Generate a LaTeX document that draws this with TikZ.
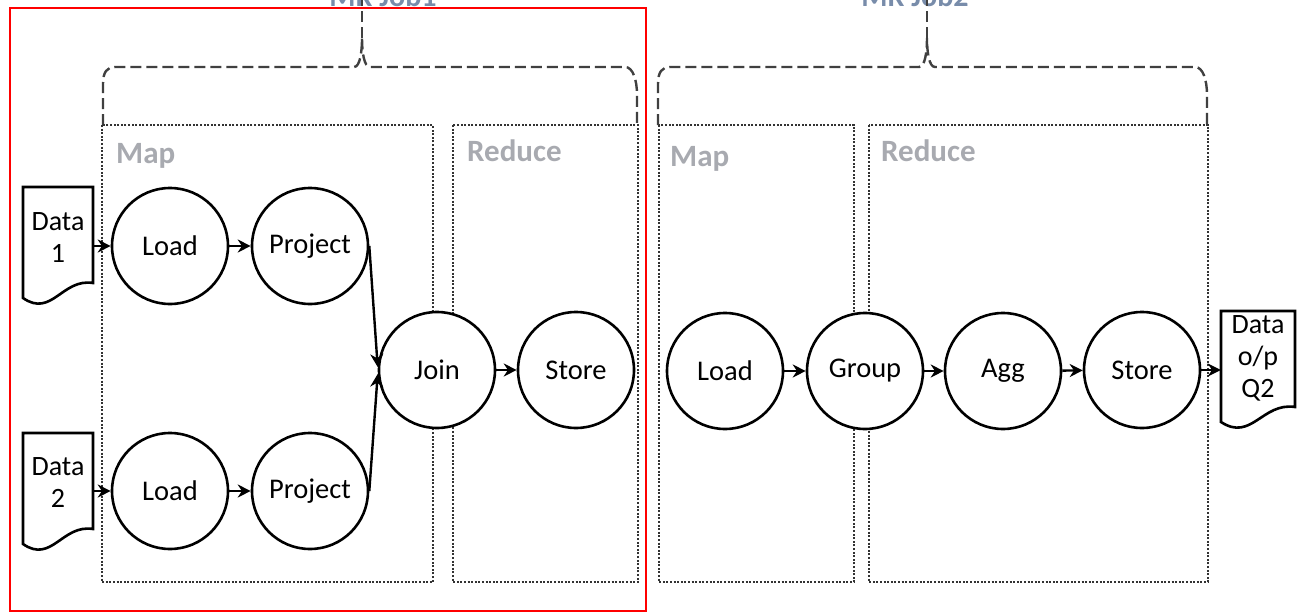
\documentclass[tikz,border=0pt]{standalone}
\usepackage{fontspec}
\setmainfont{Carlito}
\usetikzlibrary{arrows.meta}
\definecolor{labgray}{RGB}{168,170,176}
\definecolor{jobblue}{RGB}{120,140,170}
\tikzset{
  circ/.style={circle, draw, line width=2.6pt, fill=white, minimum size=116pt, inner sep=0pt, font=\fontsize{28.5}{32}\selectfont},
  arr/.style={line width=2.4pt, -{Stealth[length=13pt,width=13pt]}},
  docline/.style={line width=2.6pt, fill=white},
  doctext/.style={align=center, font=\fontsize{28}{32}\selectfont, inner sep=0pt},
  phase/.style={draw=black!80, line width=2pt, dash pattern=on 2pt off 1.6pt},
  phaselabel/.style={font=\bfseries\fontsize{31}{34}\selectfont, text=labgray, anchor=base west, inner sep=0pt},
  bracepath/.style={line width=2.4pt, dash pattern=on 11pt off 5pt, draw=black!75},
  joblabel/.style={font=\bfseries\fontsize{30}{32}\selectfont, text=jobblue, anchor=base, inner sep=0pt}
}
\newcommand{\DocOutline}[3]{%
  \draw[docline] (#1,#2) -- ++(#3,0) -- ++(0,96)
    .. controls +({-0.44*#3},-5) and +({0.41*#3},20) .. ++({-#3},15) -- cycle;}
\newcommand{\JobBrace}[3]{% left, tip, right
  \draw[bracepath] (#1,125) -- (#1,84) .. controls (#1,72) and ({#1+4},67) .. ({#1+12},67)
    -- ({#2-8},67) .. controls ({#2-2},67) and (#2,52) .. (#2,38)
    .. controls (#2,52) and ({#2+2},67) .. ({#2+8},67)
    -- ({#3-12},67) .. controls ({#3-4},67) and (#3,80) .. (#3,95) -- (#3,125);
  \draw[bracepath] (#2,38) -- (#2,0);}
\begin{document}
\begin{tikzpicture}[x=1pt,y=-1pt]
\useasboundingbox (0,0) rectangle (1307,613);
% job labels (cut off at the top, as in the source)
\node[joblabel] (mr1) at (383,6) {MR Job1};
\node[joblabel] (mr2) at (915,6) {MR Job2};
% braces
\JobBrace{103}{362}{637}
\JobBrace{658}{927}{1207}
% phase boxes
\draw[phase] (102,125) rectangle (433,582);
\draw[phase] (453,125) rectangle (638,582);
\draw[phase] (659,125) rectangle (854,582);
\draw[phase] (869,125) rectangle (1208,582);
\node[phaselabel] (map1) at (116,163) {Map};
\node[phaselabel] (red1) at (467,161) {Reduce};
\node[phaselabel] (map2) at (670,166) {Map};
\node[phaselabel] (red2) at (881,161) {Reduce};
% documents
\DocOutline{23}{187}{70}
\DocOutline{23}{433}{70}
\DocOutline{1221}{311}{74}
\node[doctext, minimum width=70pt] (d1) at (58,238) {Data\\1};
\node[doctext, minimum width=70pt] (d2) at (58,483) {Data\\2};
\node[doctext, minimum width=74pt] (d3) at (1258,358) {Data\\o/p\\Q2};
% operators
\node[circ] (l1) at (170,246) {Load};
\node[circ] (p1) at (310,246) {Project};
\node[circ] (l2) at (170,491) {Load};
\node[circ] (p2) at (310,491) {Project};
\node[circ] (j) at (437,370) {Join};
\node[circ] (s1) at (576,370) {Store};
\node[circ] (l3) at (725,371) {Load};
\node[circ] (g) at (865,371) {Group};
\node[circ] (a) at (1003,371) {Agg};
\node[circ] (s2) at (1142,370) {Store};
% connectors
\draw[arr] (l1.west -| d1.east) -- (l1.west);
\draw[arr] (l1) -- (p1);
\draw[arr] (l2.west -| d2.east) -- (l2.west);
\draw[arr] (l2) -- (p2);
\draw[arr] (p1.east) -- ([yshift=3pt]j.west);
\draw[arr] (p2.east) -- ([yshift=-4pt]j.west);
\draw[arr] (j) -- (s1);
\draw[arr] (l3) -- (g);
\draw[arr] (g) -- (a);
\draw[arr] (a) -- (s2);
\draw[arr] (s2.east) -- (s2.east -| d3.west);
% red frame
\draw[red, line width=1.5pt] (10,8) rectangle (646,611);
\end{tikzpicture}
\end{document}
